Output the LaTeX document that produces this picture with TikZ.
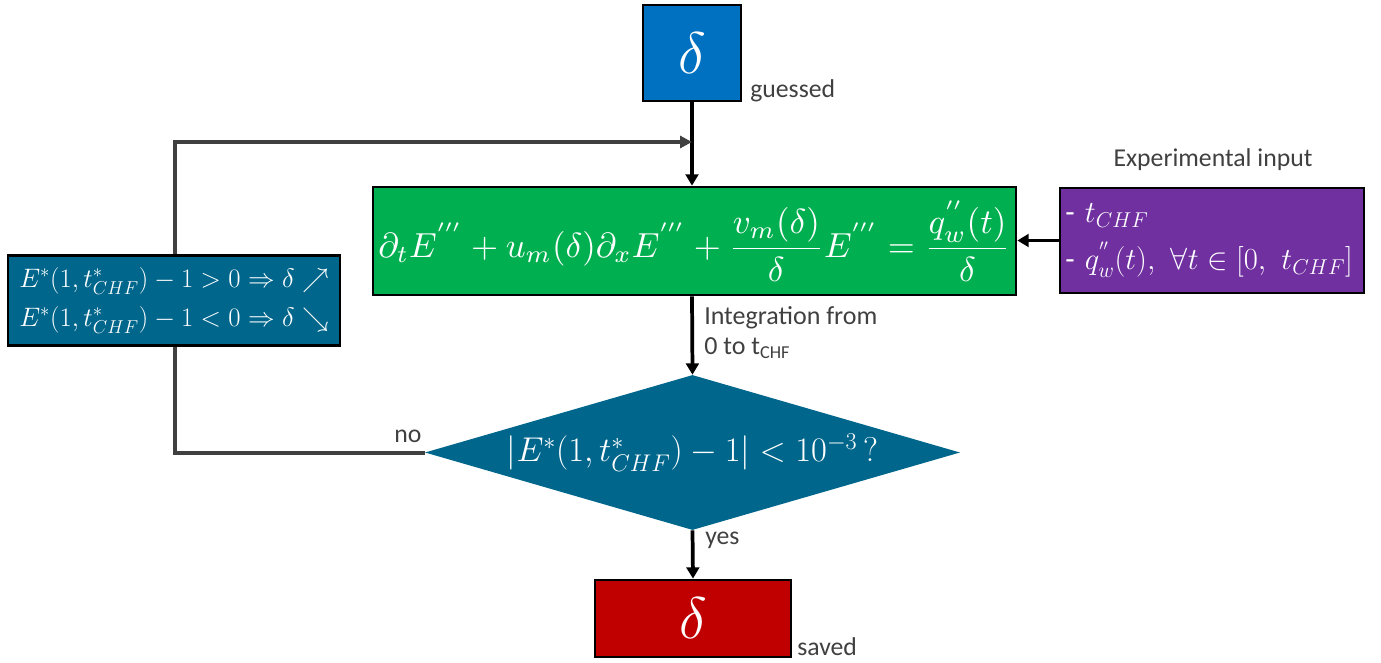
\RequirePackage{fix-cm}
\documentclass[tikz,border=0pt]{standalone}
\usepackage{fontspec}
\setmainfont{Carlito}
\usepackage{amssymb}
\usetikzlibrary{arrows.meta,shapes.geometric}
\definecolor{bblue}{HTML}{0070C0}
\definecolor{bgreen}{HTML}{00B050}
\definecolor{bpurple}{HTML}{7030A0}
\definecolor{bteal}{HTML}{00668C}
\definecolor{bred}{HTML}{C00000}
\definecolor{lgray}{HTML}{404040}
\begin{document}
\begin{tikzpicture}[x=0.75pt,y=-0.75pt,
  box/.style={draw=black,line width=2pt,text=white,inner sep=0pt},
  arr/.style={line width=2.8pt,-{Triangle[width=9.5pt,length=8.5pt]}},
  loopline/.style={draw=lgray,line width=3pt},
  lab/.style={text=lgray,font=\fontsize{19.3}{23}\selectfont,inner sep=0pt},
  bigd/.style={font=\fontsize{44}{50}\selectfont}]
\useasboundingbox (0,0) rectangle (1381,663);
% nodes
\node[box,fill=bblue,minimum width=73.5pt,minimum height=72pt,bigd] (guess) at (692,53) {$\delta$};
\node[box,fill=bgreen,minimum width=482.25pt,minimum height=81pt] (eq) at (694.5,241)
  {\resizebox{474pt}{!}{$\displaystyle \partial_t E^{'''}+u_m(\delta)\partial_x E^{'''}+\frac{v_m(\delta)}{\delta}E^{'''}=\frac{q_w^{''}(t)}{\delta}$}};
\node[box,fill=bpurple,text width=220pt,inner sep=4pt,minimum height=78.75pt,align=left,
  font=\fontsize{23}{35}\selectfont] (exp) at (1212,240.5)
  {- $t_{CHF}$\\- $q_w^{''}(t),\ \forall t\in[0,\ t_{CHF}]$};
\node[box,fill=bteal,minimum width=249pt,minimum height=67.5pt,align=center,
  font=\fontsize{20}{29}\selectfont] (upd) at (174,300.5)
  {$E^*(1,t^*_{CHF})-1>0\Rightarrow\delta\nearrow$\\$E^*(1,t^*_{CHF})-1<0\Rightarrow\delta\searrow$};
\node[diamond,fill=bteal,text=white,inner sep=0pt,aspect=3.45,minimum width=401.25pt,minimum height=116.25pt,
  font=\fontsize{25.8}{30}\selectfont] (test) at (692.5,452.5)
  {$|E^*(1,t^*_{CHF})-1|<10^{-3}\,?$};
\node[box,fill=bred,minimum width=147pt,minimum height=57.75pt,bigd] (save) at (693,618.5) {$\delta$};
% labels
\node[lab,anchor=base west] (lguess) at (750,98) {guessed};
\node[lab] (lexp) at (1213,160) {Experimental input};
\node[lab,anchor=west,align=left,font=\fontsize{19.5}{22.5}\selectfont] (lint) at (704,333)
  {Integration from\\0 to t\textsubscript{CHF}};
\node[lab] (lno) at (408,436) {no};
\node[lab,anchor=west] (lyes) at (705,540) {yes};
\node[lab,anchor=base west] (lsave) at (797,655) {saved};
% connectors
\coordinate (j) at (692,142);
\draw[arr] (guess.south) -- (eq.north -| guess.south);
\draw[loopline,-{Triangle[width=9pt,length=9pt]}] (upd.north -| 175,0) |- (j);
\draw[arr] (exp.west) -- (exp.west -| eq.east);
\draw[arr] (eq.south -| guess.south) -- (test.north);
\draw[loopline] (upd.south -| 175,0) |- (test.west);
\draw[arr] (test.south) -- (save.north);
\end{tikzpicture}
\end{document}
